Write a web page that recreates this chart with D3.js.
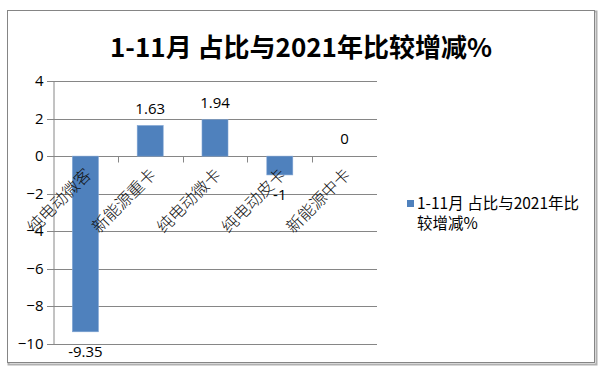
<!DOCTYPE html>
<html>
<head>
<meta charset="utf-8">
<script src="https://cdn.jsdelivr.net/npm/d3@7"></script>
<style>
  body { margin: 0; background: #fff; }
  text { font-family: "Noto Sans CJK SC", "Noto Sans", sans-serif; }
</style>
</head>
<body>
<div id="chart-area"></div>
<script>
// chart data
const categories = ["纯电动微客", "新能源重卡", "纯电动微卡", "纯电动皮卡", "新能源中卡"]
const values = [-9.35, 1.63, 1.94, -1, 0]
const valueLabels = ["-9.35", "1.63", "1.94", "-1", "0"]
const yTicks = [4, 2, 0, -2, -4, -6, -8, -10]
const title = "1-11月 占比与2021年比较增减%"
const legendLines = ["1-11月 占比与2021年比", "较增减%"]

const W = 600, H = 370
const PLOT = { LEFT: 53, RIGHT: 377, TOP: 81, BOTTOM: 344 }

const svg = d3.select("#chart-area").append("svg")
  .attr("width", W)
  .attr("height", H)

// outer frame with soft shadow
svg.append("rect")
  .attr("x", 8.5).attr("y", 11.5)
  .attr("width", 588).attr("height", 353)
  .attr("fill", "none").attr("stroke", "#b0b0b0").attr("stroke-width", 2)
svg.append("rect")
  .attr("x", 7.5).attr("y", 10.5)
  .attr("width", 587).attr("height", 352)
  .attr("fill", "#fff").attr("stroke", "#858585").attr("stroke-width", 1)

svg.append("text")
  .attr("x", 301).attr("y", 57)
  .attr("text-anchor", "middle")
  .attr("font-size", 26)
  .attr("font-weight", "bold")
  .attr("fill", "#000")
  .text(title)

// scales
const x = d3.scaleBand().domain(categories).range([PLOT.LEFT, PLOT.RIGHT])
const y = d3.scaleLinear().domain([-10, 4]).range([PLOT.BOTTOM, PLOT.TOP])

// gridlines
svg.append("g")
  .selectAll("line")
  .data(yTicks)
  .join("line")
  .attr("x1", PLOT.LEFT - 6).attr("x2", PLOT.RIGHT)
  .attr("y1", d => Math.round(y(d)) + 0.5).attr("y2", d => Math.round(y(d)) + 0.5)
  .attr("stroke", "#868686")

// y axis
const yAxis = svg.append("g")
  .attr("transform", `translate(${PLOT.LEFT + 0.5}, 0)`)
  .call(d3.axisLeft(y).tickValues(yTicks).tickSize(6).tickPadding(4).tickFormat(d3.format("d")))
yAxis.select(".domain").attr("stroke", "#868686")
yAxis.selectAll(".tick line").attr("stroke", "#868686")
yAxis.selectAll(".tick text")
  .attr("font-size", 15)
  .attr("fill", "#000")
  .style("font-family", "'Open Sans', 'Noto Sans', sans-serif")
yAxis.selectAll(".tick").attr("transform", d => `translate(0, ${Math.round(y(d)) + 0.5})`)

// bars
const barW = 26
svg.append("g")
  .selectAll("rect")
  .data(values)
  .join("rect")
  .attr("x", (d, i) => x(categories[i]) + x.bandwidth() / 2 - barW / 2)
  .attr("y", d => y(Math.max(0, d)))
  .attr("width", barW)
  .attr("height", d => Math.abs(y(d) - y(0)))
  .attr("fill", "#4f81bd")
  .attr("stroke", "#7fa3d3")
  .attr("stroke-width", 0.6)

// x axis ticks at category boundaries on the zero line
const zeroY = Math.round(y(0)) + 0.5
svg.append("g")
  .selectAll("line")
  .data(categories.slice(1))
  .join("line")
  .attr("x1", d => Math.round(x(d)) + 0.5).attr("x2", d => Math.round(x(d)) + 0.5)
  .attr("y1", zeroY).attr("y2", zeroY + 6)
  .attr("stroke", "#868686")

// category labels, rotated
svg.append("g")
  .selectAll("text")
  .data(categories)
  .join("text")
  .attr("transform", d => `translate(${x(d) + x.bandwidth() / 2 + 3}, ${zeroY + 15}) rotate(-45)`)
  .attr("text-anchor", "end")
  .attr("dy", "0.35em")
  .attr("font-size", 16.5)
  .attr("font-weight", 300)
  .attr("fill", "#111")
  .text(d => d)

// value labels
svg.append("g")
  .selectAll("text")
  .data(values)
  .join("text")
  .attr("x", (d, i) => x(categories[i]) + x.bandwidth() / 2)
  .attr("y", d => d < 0 ? y(d) + 20 : y(d) - 17)
  .attr("dy", "0.35em")
  .attr("text-anchor", "middle")
  .attr("font-size", 15)
  .attr("fill", "#000")
  .style("font-family", "'Open Sans', 'Noto Sans', sans-serif")
  .text((d, i) => valueLabels[i])

// legend
svg.append("rect")
  .attr("x", 407).attr("y", 200)
  .attr("width", 7).attr("height", 7)
  .attr("fill", "#4f81bd")
svg.append("g")
  .selectAll("text")
  .data(legendLines)
  .join("text")
  .attr("x", 417)
  .attr("y", (d, i) => 209 + i * 20)
  .attr("font-size", 15.5)
  .attr("fill", "#000")
  .text(d => d)
</script>
</body>
</html>
